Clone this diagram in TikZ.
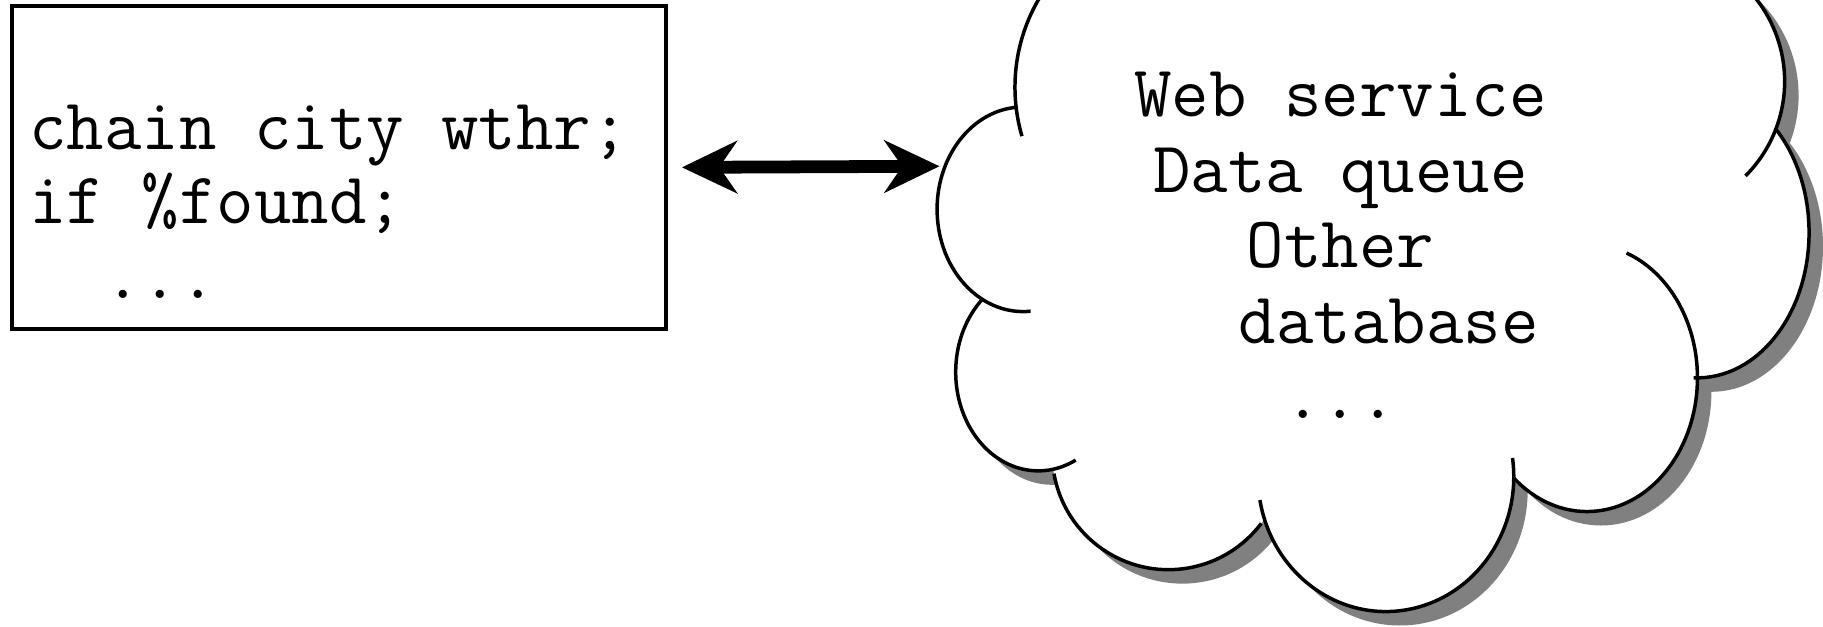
\documentclass[tikz,border=0pt]{standalone}
\usetikzlibrary{arrows.meta}
\tikzset{>={Stealth[length=9.6mm,width=9.2mm,inset=3.2mm,line width=0pt]}}

\begin{document}
\begin{tikzpicture}[x=0.2mm, y=-0.2mm, codebox/.style={draw=black, line width=0.65mm, minimum width=112.6mm, minimum height=55.6mm, inner sep=0pt}, codetext/.style={font=\ttfamily\fontsize{35.6}{36.4}\selectfont, align=left, inner sep=0pt}, cloudtext/.style={font=\ttfamily\fontsize{35.6}{36.9}\selectfont, align=center, inner sep=0pt}, lobe/.style={draw=black, line width=0.6mm}, bigarrow/.style={<->, line width=2.2mm}]

    \useasboundingbox (0,0) rectangle (1568,539);

    %Cloud
    \begin{scope}
    \clip (0,0) rectangle (1568,539);
    \begin{scope}[shift={(12,12)}]
    \foreach \cx/\cy/\rx/\ry/\sa/\ea in {1010/75/137/144/240/163, 880/180/74/88/265/85, 893/320/71/85/228/63, 1005/390/100/100/170/37, 1192/410/110/116/170/-8, 1365/325/95/115/132/-69, 1460/200/96/125/-46/92, 1420/70/115/115/-60/45}
        \fill[black!50] (\cx,\cy) ellipse [x radius=\rx, y radius=\ry];
    \fill[black!50] (1010,-60) -- (1010,75) -- (880,180) -- (893,320) -- (1005,390) -- (1192,410) -- (1365,325) -- (1460,200) -- (1420,70) -- (1420,-60) -- cycle;
    \end{scope}
    \foreach \cx/\cy/\rx/\ry/\sa/\ea in {1010/75/137/144/240/163, 880/180/74/88/265/85, 893/320/71/85/228/63, 1005/390/100/100/170/37, 1192/410/110/116/170/-8, 1365/325/95/115/132/-69, 1460/200/96/125/-46/92, 1420/70/115/115/-60/45}
        \fill[white] (\cx,\cy) ellipse [x radius=\rx, y radius=\ry];
    \fill[white] (1010,-60) -- (1010,75) -- (880,180) -- (893,320) -- (1005,390) -- (1192,410) -- (1365,325) -- (1460,200) -- (1420,70) -- (1420,-60) -- cycle;
    \foreach \cx/\cy/\rx/\ry/\sa/\ea in {1010/75/137/144/240/163, 880/180/74/88/265/85, 893/320/71/85/228/63, 1005/390/100/100/170/37, 1192/410/110/116/170/-8, 1365/325/95/115/132/-69, 1460/200/96/125/-46/92, 1420/70/115/115/-60/45}
        \draw[lobe] (\cx,\cy) ++(\sa:{\rx} and {\ry}) arc [start angle=\sa, end angle=\ea, x radius=\rx, y radius=\ry];
    \end{scope}

    %Nodes
    \node[codebox](prog) at (291.5,144) {};
    \node[codetext, anchor=north west](code) at (25,90) {chain city wthr;\\if \%found;\\\phantom{ab}...};
    \node[cloudtext, anchor=north](sources) at (1153,62) {Web service\\Data queue\\Other\\\hspace*{16.6mm}database\\...};
    \coordinate (cloudw) at (808,143);

    %Lines
    \draw[bigarrow, shorten <=2.4mm] (prog.east) -- (cloudw);

\end{tikzpicture}
\end{document}
